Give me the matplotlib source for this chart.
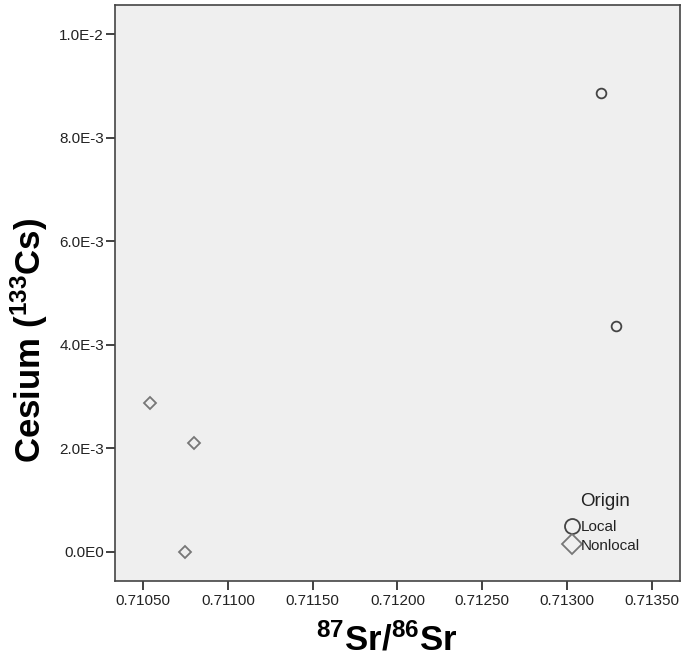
import matplotlib
matplotlib.use("Agg")
import matplotlib.pyplot as plt
from matplotlib.lines import Line2D

plt.rcParams['font.family'] = ['Liberation Sans', 'DejaVu Sans']
plt.rcParams['mathtext.fontset'] = 'custom'
plt.rcParams['mathtext.rm'] = 'Liberation Sans:bold'
plt.rcParams['mathtext.it'] = 'Liberation Sans:bold'
plt.rcParams['mathtext.bf'] = 'Liberation Sans:bold'

# Data
local_sr = [0.71320, 0.71329]
local_cs = [0.00886, 0.00437]
nonlocal_sr = [0.71054, 0.71080, 0.71075]
nonlocal_cs = [0.00288, 0.00211, 0.00000]

x_ticks = [0.71050, 0.71100, 0.71150, 0.71200, 0.71250, 0.71300, 0.71350]
x_tick_labels = ["0.71050", "0.71100", "0.71150", "0.71200", "0.71250", "0.71300", "0.71350"]
y_ticks = [0.0, 0.002, 0.004, 0.006, 0.008, 0.010]
y_tick_labels = ["0.0E0", "2.0E-3", "4.0E-3", "6.0E-3", "8.0E-3", "1.0E-2"]

fig = plt.figure(figsize=(6.81, 6.57), dpi=100)
ax = fig.add_axes([115/681, (657-581)/657, (680-115)/681, (581-5)/657])
ax.set_facecolor('#efefef')

circ_col = '#444444'
dia_col = '#777777'

ax.plot(local_sr, local_cs, ls='none', marker='o', ms=7.0, mfc='none', mec=circ_col, mew=1.3)
ax.plot(nonlocal_sr, nonlocal_cs, ls='none', marker='D', ms=6.0, mfc='none', mec=dia_col, mew=1.3)

ax.set_xlim(0.710335, 0.713665)
ax.set_ylim(-0.00056, 0.01056)
ax.set_xticks(x_ticks)
ax.set_xticklabels(x_tick_labels)
ax.set_yticks(y_ticks)
ax.set_yticklabels(y_tick_labels)
ax.tick_params(axis='both', direction='out', length=6.5, width=1.3, color='#333333',
               labelsize=11, labelcolor='#222222')
ax.tick_params(axis='y', pad=1.5)
ax.tick_params(axis='x', pad=3)
for s in ax.spines.values():
    s.set_color('#444444')
    s.set_linewidth(1.2)

ax.set_xlabel(r'$^{87}$Sr/$^{86}$Sr', fontsize=25, fontweight='bold')
ax.set_ylabel(r'Cesium ($^{133}$Cs)', fontsize=25, fontweight='bold')
ax.xaxis.set_label_coords(0.48, -0.073)
ax.yaxis.set_label_coords(-0.115, 0.418)

handles = [
    Line2D([], [], ls='none', marker='o', ms=10.8, mfc='none', mec=circ_col, mew=1.3),
    Line2D([], [], ls='none', marker='D', ms=10.0, mfc='none', mec=dia_col, mew=1.3),
]
leg = ax.legend(handles, ['Local', 'Nonlocal'], frameon=False,
                loc='center', bbox_to_anchor=((602.5-115)/565, (581-536.5)/576),
                fontsize=11, handlelength=0.9, handletextpad=0.1,
                labelspacing=0.3, borderpad=0, borderaxespad=0)
for t in leg.get_texts():
    t.set_color('#222222')
ax.text((605-115)/565, (581-501)/576, 'Origin', transform=ax.transAxes,
        ha='center', va='center', fontsize=13.5, color='#222222')

fig.savefig('out.png', dpi=100)
